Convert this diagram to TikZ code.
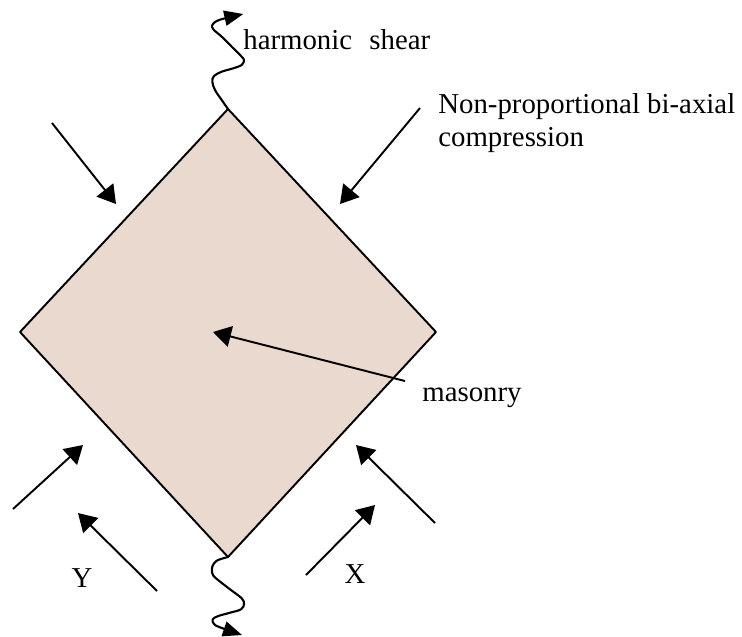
\documentclass[tikz,border=0pt]{standalone}
\usepackage{fontspec}
\setmainfont{Liberation Serif}
\usetikzlibrary{arrows.meta}
\definecolor{cmasonry}{RGB}{233,217,207}

\begin{document}
\begin{tikzpicture}[x=0.02cm, y=-0.02cm, line join=round,
                    font=\fontsize{16.4}{18.7}\selectfont,
                    load/.style={line width=1.1pt,
                      -{Triangle[length=10.2pt,width=12pt]}},
                    wiggle/.style={line width=1.2pt,
                      -{Triangle[length=10.8pt,width=8.6pt]}},
                    lbl/.style={inner sep=0pt, anchor=base west}]

\useasboundingbox (0,0) rectangle (742,636);

% =================== masonry panel ===================
\coordinate (dtop) at (228,109);
\coordinate (drgt) at (436,332);
\coordinate (dbot) at (228,557);
\coordinate (dlft) at (20,332);
\filldraw[fill=cmasonry, line width=1.1pt]
  (dtop) -- (drgt) -- (dbot) -- (dlft) -- cycle;

% =================== harmonic shear (wavy lines) ===================
\draw[wiggle] plot[smooth, tension=0.6] coordinates {
  (dtop) (221.7,100) (215,90) (212.3,81.7) (214,76) (221.7,71.7)
  (233.3,68.3) (241.7,65) (244,60) (241,56) (231.7,46.7) (221.7,36.7)
  (213.3,29.3) (212.3,25) (216.7,21) (225,18.3) (243.3,14)};
\draw[wiggle] plot[smooth, tension=0.6] coordinates {
  (dbot) (216.7,560.7) (212.3,566.7) (212.3,573.3) (216,578.3) (230,589.3)
  (241.7,598.3) (244,604) (241,609.3) (230,612.7) (218.3,616)
  (212.7,619.3) (214,624) (220,627.3) (242,635)};

% =================== bi-axial compression arrows ===================
% tail / head of each load arrow
\coordinate (ulT) at (52,123);   \coordinate (ulH) at (116,204);
\coordinate (urT) at (420,108);  \coordinate (urH) at (340,204);
\coordinate (llT) at (13,509);   \coordinate (llH) at (83,445);
\coordinate (lrT) at (435,523);  \coordinate (lrH) at (356,445);
\coordinate (yT)  at (157,591);  \coordinate (yH)  at (78,513);
\coordinate (xT)  at (306,575);  \coordinate (xH)  at (375,505);
\foreach \n in {ul,ur,ll,lr,y,x}
  \draw[load] (\n T) -- (\n H);

% =================== labels ===================
\node[lbl] (harm) at (243,49) {harmonic\hspace{0.6em}shear};
\node[inner sep=0pt, anchor=north west, align=left] (npbc) at (438,93)
  {Non-proportional bi-axial\\compression};
\node[lbl] (mas) at (422,401) {masonry};
\node[inner sep=0pt, anchor=base] (lblY) at (82,587) {Y};
\node[inner sep=0pt, anchor=base] (lblX) at (355,583) {X};

% pointer from the label into the panel
\coordinate (masT) at (405,381);
\coordinate (masH) at (213,332);
\draw[load] (masT) -- (masH);

\end{tikzpicture}
\end{document}
